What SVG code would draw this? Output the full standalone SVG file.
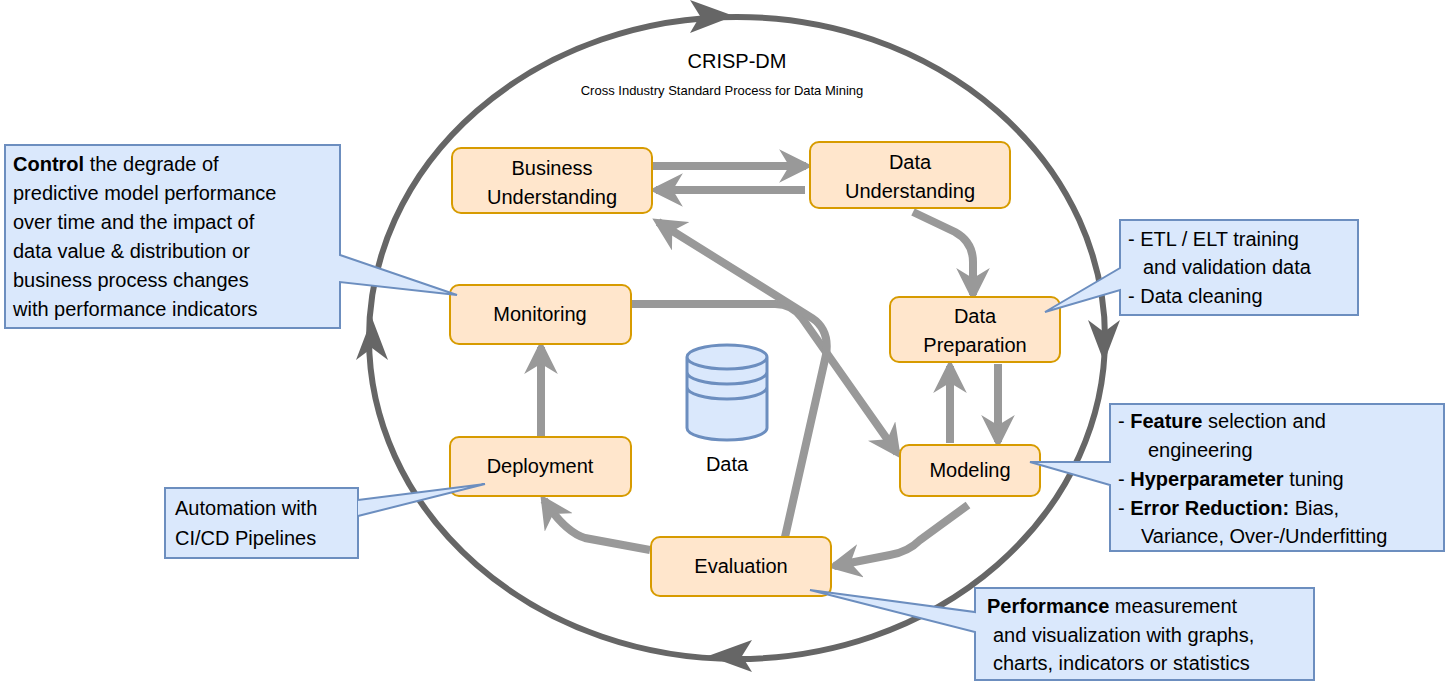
<svg xmlns="http://www.w3.org/2000/svg" width="1446" height="682" viewBox="0 0 1446 682">
<style>
text{font-family:"Liberation Sans",Arial,sans-serif;fill:#000}
.n rect{fill:#ffe6cc;stroke:#d79b00;stroke-width:2}
.n text{font-size:20px;text-anchor:middle}
.c path{fill:#dae8fc;stroke:#6c8ebf;stroke-width:2}
.c text{font-size:20px}
.a{fill:none;stroke:#999;stroke-width:8}
.ah{fill:#999}
.ch{fill:#666}
</style>
<defs>
<marker id="m" viewBox="0 0 10 10" refX="8" refY="5" markerWidth="4.2" markerHeight="4.2" orient="auto" markerUnits="strokeWidth">
<path class="ah" d="M0,0 L10,5 L0,10 L3,5 Z"/>
</marker>
</defs>
<g id="cycle">
<ellipse cx="737" cy="338" rx="368" ry="321" fill="none" stroke="#666" stroke-width="6"/>
<path class="ch" d="M734,16 L690,0 L700,16 L690,33 Z"/>
<path class="ch" d="M1104,362 L1088,320 L1104,332 L1120,320 Z"/>
<path class="ch" d="M708,656 L752,640 L742,656 L752,672 Z"/>
<path class="ch" d="M372,318 L356,360 L372,348 L388,360 Z"/>
</g>
<g id="title">
<text x="737" y="68" font-size="20" text-anchor="middle">CRISP-DM</text>
<text x="722" y="95" font-size="13" text-anchor="middle">Cross Industry Standard Process for Data Mining</text>
</g>
<g id="connectors">
<path class="a" marker-end="url(#m)" d="M652,166 L806,166"/>
<path class="a" marker-end="url(#m)" d="M805,190 L656,190"/>
<path class="a" marker-end="url(#m)" d="M913,212 L955,232 Q973,242 973,262 L973,295"/>
<path class="a" marker-end="url(#m)" d="M998,364 L998,442"/>
<path class="a" marker-end="url(#m)" d="M950,443 L950,366"/>
<path class="a" marker-end="url(#m)" d="M632,304 L775,304 Q792,304 802,318 L897,453"/>
<path class="a" marker-end="url(#m)" d="M785,537 L826,355 Q830,330 812,318 L658,222"/>
<path class="a" marker-end="url(#m)" d="M968,505 L920,540 Q908,552 890,555 L834,566"/>
<path class="a" marker-end="url(#m)" d="M650,550 L585,538 Q565,532 544,500"/>
<path class="a" marker-end="url(#m)" d="M541,437 L541,347"/>
</g>
<g id="business" class="n"><rect x="452" y="148" width="200" height="65" rx="9"/><text x="552" y="175">Business</text><text x="552" y="204">Understanding</text></g>
<g id="dataund" class="n"><rect x="810" y="142" width="200" height="66" rx="9"/><text x="910" y="169">Data</text><text x="910" y="198">Understanding</text></g>
<g id="dataprep" class="n"><rect x="890" y="297" width="170" height="65" rx="9"/><text x="975" y="323">Data</text><text x="975" y="352">Preparation</text></g>
<g id="monitoring" class="n"><rect x="450" y="285" width="181" height="59" rx="9"/><text x="540" y="321">Monitoring</text></g>
<g id="modeling" class="n"><rect x="900" y="445" width="140" height="51" rx="9"/><text x="970" y="477">Modeling</text></g>
<g id="deployment" class="n"><rect x="450" y="437" width="181" height="59" rx="9"/><text x="540" y="473">Deployment</text></g>
<g id="evaluation" class="n"><rect x="651" y="537" width="180" height="59" rx="9"/><text x="741" y="573">Evaluation</text></g>
<g id="data">
<path d="M687,357 L687,428 A40,12 0 0 0 767,428 L767,357 A40,12 0 0 0 687,357 A40,12 0 0 0 767,357 M687,372 A40,12 0 0 0 767,372 M687,387 A40,12 0 0 0 767,387" fill="#dae8fc" stroke="#6c8ebf" stroke-width="3"/>
<text x="727" y="471" font-size="20" text-anchor="middle">Data</text>
</g>
<g id="callout-control" class="c">
<path d="M5,145 L340,145 L340,255 L457,295 L340,282 L340,328 L5,328 Z"/>
<text x="13" y="171"><tspan font-weight="bold">Control</tspan> the degrade of</text>
<text x="13" y="200">predictive model performance</text>
<text x="13" y="229">over time and the impact of</text>
<text x="13" y="258">data value &amp; distribution or</text>
<text x="13" y="287">business process changes</text>
<text x="13" y="316">with performance indicators</text>
</g>
<g id="callout-etl" class="c">
<path d="M1120,220 L1358,220 L1358,315 L1120,315 L1120,290 L1045,312 L1120,268 Z"/>
<text x="1128" y="246">- ETL / ELT training</text>
<text x="1143" y="274">and validation data</text>
<text x="1128" y="303">- Data cleaning</text>
</g>
<g id="callout-feature" class="c">
<path d="M1110,404 L1444,404 L1444,551 L1110,551 L1110,485 L1030,462 L1110,462 Z"/>
<text x="1118" y="428">- <tspan font-weight="bold">Feature</tspan> selection and</text>
<text x="1148" y="457">engineering</text>
<text x="1118" y="486">- <tspan font-weight="bold">Hyperparameter</tspan> tuning</text>
<text x="1118" y="515">- <tspan font-weight="bold">Error Reduction:</tspan> Bias,</text>
<text x="1141" y="543">Variance, Over-/Underfitting</text>
</g>
<g id="callout-automation" class="c">
<path d="M165,488 L358,488 L358,558 L165,558 Z"/>
<path d="M358,500 L485,484 L358,516" />
<text x="175" y="515">Automation with</text>
<text x="175" y="545">CI/CD Pipelines</text>
</g>
<g id="callout-performance" class="c">
<path d="M975,588 L1314,588 L1314,680 L975,680 L975,632 L810,590 L975,612 Z"/>
<text x="987" y="613"><tspan font-weight="bold">Performance</tspan> measurement</text>
<text x="993" y="642">and visualization with graphs,</text>
<text x="993" y="670">charts, indicators or statistics</text>
</g>
</svg>
